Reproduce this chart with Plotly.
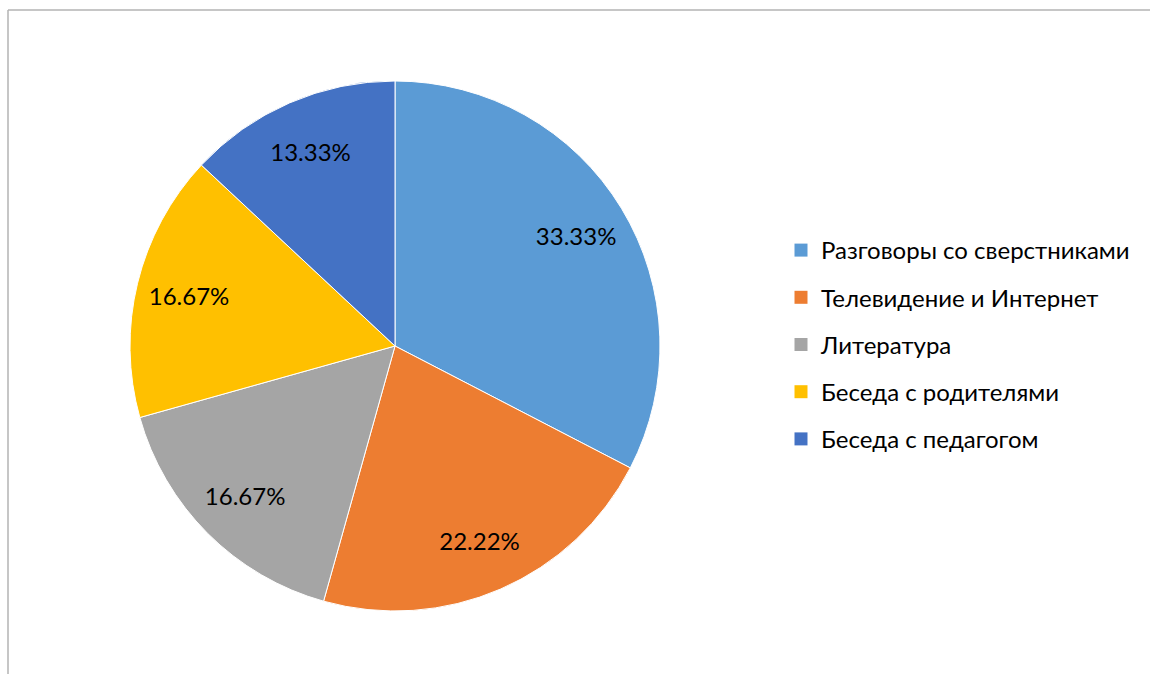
import plotly.graph_objects as go

categories = ["Разговоры со сверстниками", "Телевидение и Интернет", "Литература",
              "Беседа с родителями", "Беседа с педагогом"]
values = [33.33, 22.22, 16.67, 16.67, 13.33]
colors = ["#5B9BD5", "#ED7D31", "#A5A5A5", "#FFC000", "#4472C4"]
labels_text = [f"{v:.2f}%" for v in values]

W, H = 1150, 674
FONT = "Lato"
dom = dict(x=[130 / W, 660 / W], y=[(H - 611) / H, (H - 81) / H])

fig = go.Figure()
# filled slices
fig.add_trace(go.Pie(
    labels=categories, values=values,
    textinfo="none", sort=False, direction="clockwise", rotation=0,
    marker=dict(colors=colors, line=dict(color="white", width=1)),
    domain=dom, showlegend=False, hoverinfo="label+value",
))
# transparent ring used only to position the data labels near the rim
fig.add_trace(go.Pie(
    labels=categories, values=values, text=labels_text, hole=0.6,
    textinfo="text", textposition="inside", insidetextorientation="horizontal",
    sort=False, direction="clockwise", rotation=0,
    marker=dict(colors=["rgba(0,0,0,0)"] * len(values), line=dict(width=0)),
    textfont=dict(family=FONT, size=24, color="black"),
    domain=dom, showlegend=False, hoverinfo="skip",
))

# legend entries
for i, (c, col) in enumerate(zip(categories, colors)):
    fig.add_trace(go.Scatter(
        x=[None], y=[None], mode="markers", name=c,
        marker=dict(symbol="square", size=13, color=col),
        legendgroup=f"g{i}", showlegend=True,
    ))

fig.update_layout(
    width=W, height=H,
    margin=dict(l=0, r=0, t=0, b=0),
    paper_bgcolor="white", plot_bgcolor="white",
    xaxis=dict(visible=False), yaxis=dict(visible=False),
    legend=dict(x=781 / W, y=(H - 228) / H, xanchor="left", yanchor="top",
                font=dict(family=FONT, size=24, color="black"),
                tracegroupgap=13, itemwidth=30, itemsizing="trace",
                bgcolor="rgba(0,0,0,0)"),
    shapes=[
        dict(type="line", xref="paper", yref="paper", x0=8 / W, x1=1, y0=1 - 10 / H, y1=1 - 10 / H,
             line=dict(color="#b3b3b3", width=1.5)),
        dict(type="line", xref="paper", yref="paper", x0=8 / W, x1=8 / W, y0=0, y1=1 - 10 / H,
             line=dict(color="#b3b3b3", width=1.5)),
    ],
)

fig.write_html("out.html")
